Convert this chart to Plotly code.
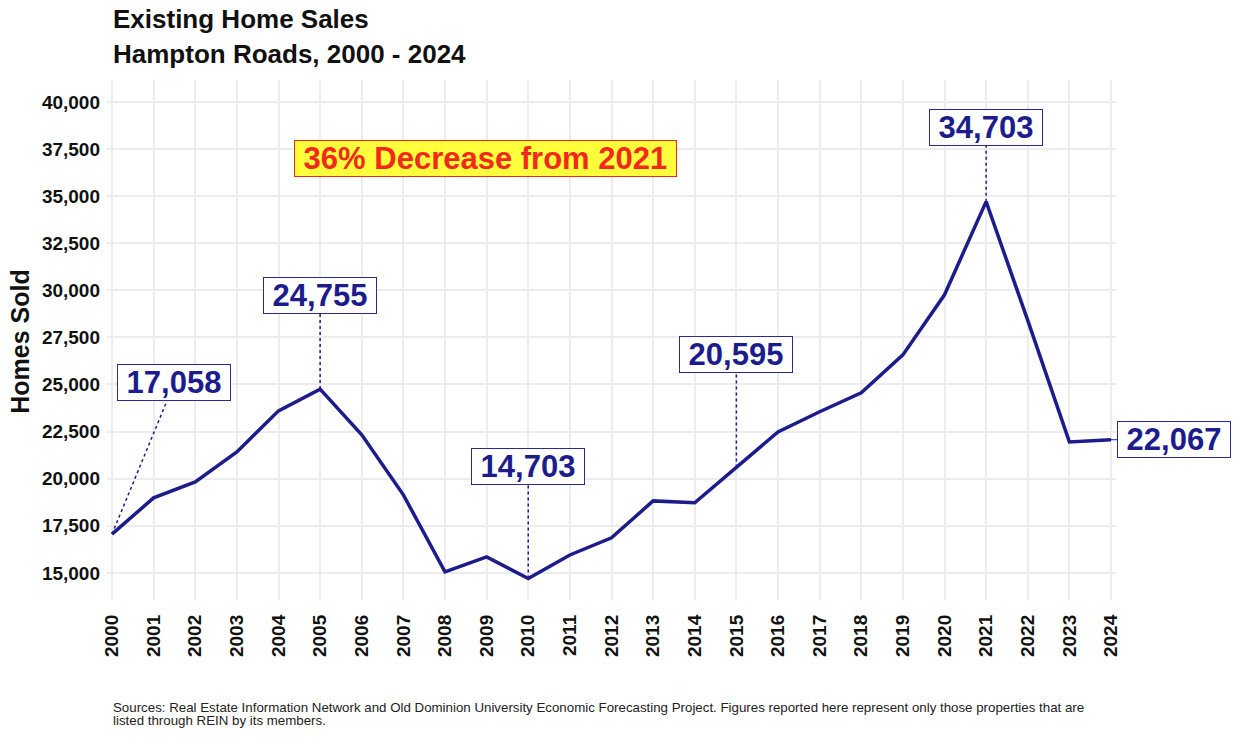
import plotly.graph_objects as go

# Existing home sales, Hampton Roads
years = list(range(2000, 2025))
homes_sold = [17058, 18980, 19830, 21420, 23600, 24755, 22330, 19140, 15050, 15850,
              14703, 15950, 16860, 18820, 18720, 20595, 22480, 23550, 24560, 26570,
              29760, 34703, 28400, 21950, 22067]

# Callout labels: (year of point, label x, label y)
callout_years = [2000, 2005, 2010, 2015, 2021]
callout_label_x = [2001.5, 2005.0, 2010.0, 2015.0, 2021.0]
callout_label_y = [25085, 29700, 20630, 26570, 38620]

y_ticks = list(range(15000, 40001, 2500))

NAVY = "#1c1c8c"
FONT = "Liberation Sans"
INK = "#111111"
PAD = "\u00a0"  # side padding inside the label boxes

fig = go.Figure()

# dotted leader lines from points to their labels
for yr, lx, ly in zip(callout_years, callout_label_x, callout_label_y):
    v = homes_sold[years.index(yr)]
    fig.add_trace(go.Scatter(
        x=[yr, lx], y=[v, ly], mode="lines",
        line=dict(color=NAVY, width=1.5, dash="dot"),
        hoverinfo="skip", showlegend=False,
    ))

fig.add_trace(go.Scatter(
    x=years, y=homes_sold, mode="lines",
    line=dict(color=NAVY, width=3.5),
    showlegend=False,
))

label_font = dict(family=FONT, size=31, color=NAVY, weight="bold")
for yr, lx, ly in zip(callout_years, callout_label_x, callout_label_y):
    v = homes_sold[years.index(yr)]
    fig.add_annotation(
        x=lx, y=ly, xref="x", yref="y", text=f"{PAD}{v:,}{PAD}", showarrow=False,
        font=label_font, bgcolor="white", bordercolor="#2a2a96", borderwidth=1,
        borderpad=0,
    )

# last value label to the right of the final point
fig.add_annotation(
    x=years[-1], y=homes_sold[-1], xref="x", yref="y",
    text=f"{PAD}{homes_sold[-1]:,}{PAD}", showarrow=True, arrowhead=0,
    arrowcolor=NAVY, arrowwidth=1, ax=63, ay=0, standoff=0,
    font=label_font, bgcolor="white", bordercolor="#2a2a96", borderwidth=1,
    borderpad=0,
)

peak = homes_sold[years.index(2021)]
pct_change = round((homes_sold[-1] - peak) / peak * 100)
fig.add_annotation(
    x=2008.98, y=36970, xref="x", yref="y",
    text=f"{PAD}{abs(pct_change)}% Decrease from 2021{PAD}", showarrow=False,
    font=dict(family=FONT, size=31, color="#f2281c", weight="bold"),
    bgcolor="#ffff3c", bordercolor="#f2281c", borderwidth=1, borderpad=0,
)

# titles
title_font = dict(family=FONT, size=26, color=INK, weight="bold")
fig.add_annotation(
    x=0.004, y=1.118, xref="paper", yref="paper", text="Existing Home Sales",
    showarrow=False, xanchor="left", yanchor="middle", font=title_font,
)
fig.add_annotation(
    x=0.004, y=1.05, xref="paper", yref="paper", text="Hampton Roads, 2000 - 2024",
    showarrow=False, xanchor="left", yanchor="middle", font=title_font,
)

# y-axis title
fig.add_annotation(
    x=-0.087, y=0.497, xref="paper", yref="paper", text="Homes Sold",
    textangle=-90, showarrow=False, xanchor="center", yanchor="middle",
    font=dict(family=FONT, size=25, color=INK, weight="bold"),
)

# source note
note_font = dict(family=FONT, size=13.3, color="#222222")
fig.add_annotation(
    x=0.004, y=-0.2058, xref="paper", yref="paper",
    text=("Sources: Real Estate Information Network and Old Dominion University Economic "
          "Forecasting Project. Figures reported here represent only those properties that are"),
    showarrow=False, xanchor="left", yanchor="middle", font=note_font,
)
fig.add_annotation(
    x=0.004, y=-0.2308, xref="paper", yref="paper",
    text="listed through REIN by its members.",
    showarrow=False, xanchor="left", yanchor="middle", font=note_font,
)

fig.update_layout(
    width=1241, height=740,
    margin=dict(l=107, r=125, t=80, b=140),
    paper_bgcolor="white", plot_bgcolor="white",
    font=dict(family=FONT),
    xaxis=dict(
        range=[1999.88, 2024.12], tickmode="array", tickvals=years,
        ticktext=[str(y) for y in years], tickangle=-90,
        tickfont=dict(family=FONT, size=19, color=INK, weight="bold"),
        showgrid=True, gridcolor="#ececec", gridwidth=2, zeroline=False,
        showline=False, ticks="", ticklabelstandoff=10,
    ),
    yaxis=dict(
        range=[13560, 41160], tickmode="array", tickvals=y_ticks,
        ticktext=[f"{v:,}" for v in y_ticks],
        tickfont=dict(family=FONT, size=19, color=INK, weight="bold"),
        showgrid=True, gridcolor="#ececec", gridwidth=2, zeroline=False,
        showline=False, ticks="", ticklabelstandoff=6,
    ),
)

fig.write_html("out.html")
